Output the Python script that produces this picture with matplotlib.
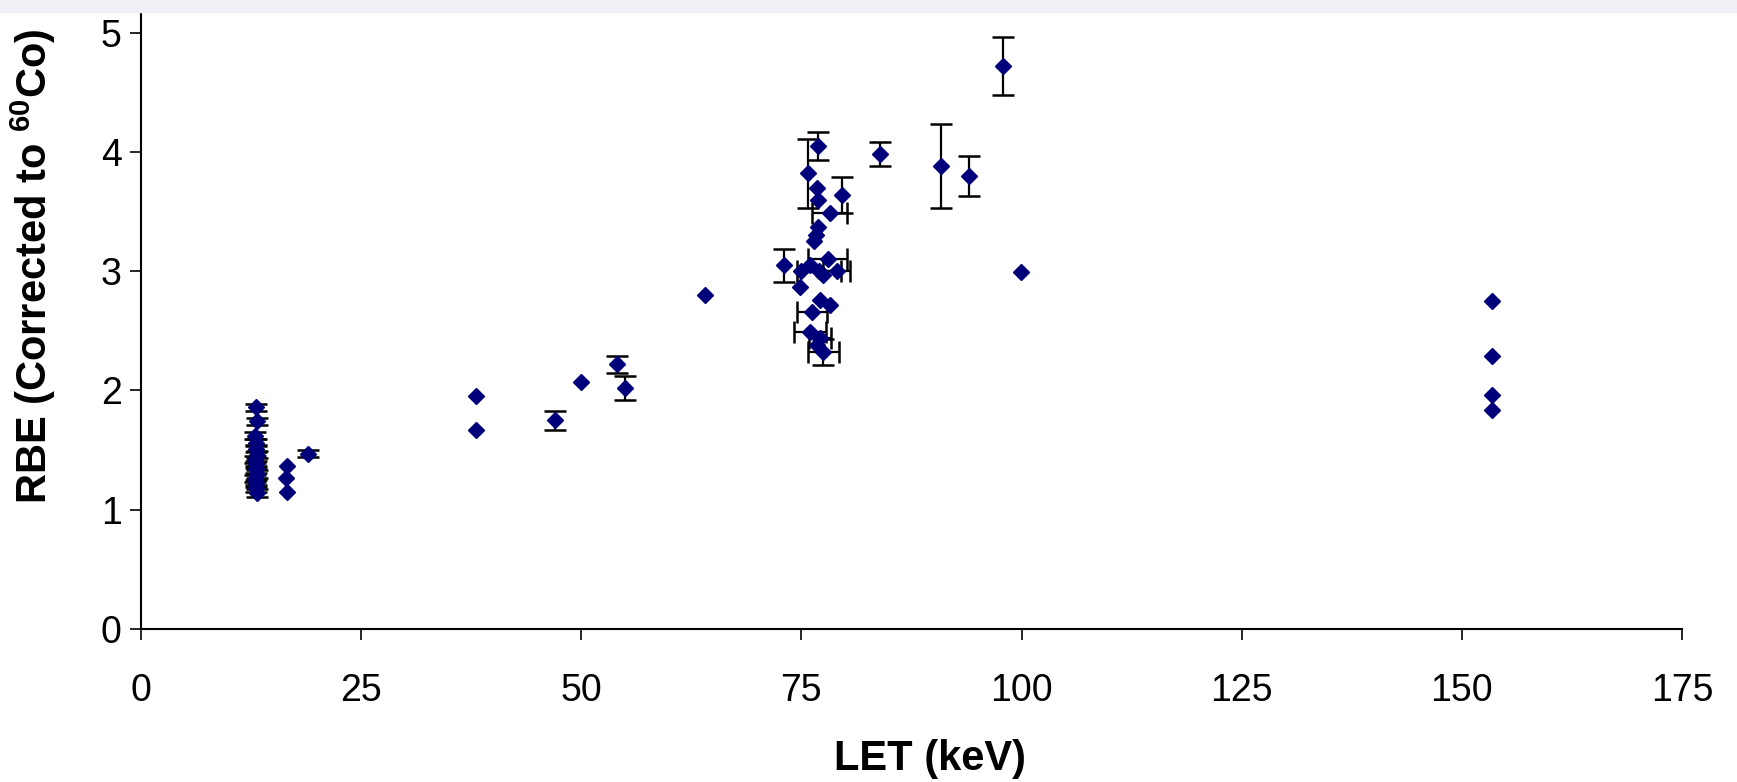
import matplotlib.pyplot as plt
import numpy as np

plt.rcParams['font.family'] = ['Liberation Sans', 'DejaVu Sans']
plt.rcParams['mathtext.fontset'] = 'custom'
plt.rcParams['mathtext.rm'] = 'Liberation Sans:bold'
plt.rcParams['mathtext.default'] = 'rm'

# LET (keV), RBE and their uncertainties
let_kev = [
    13.0, 13.2, 12.9, 13.1, 13.0, 13.2, 12.9, 13.1, 13.0, 13.2, 12.9, 13.1, 13.0, 13.2,
    16.6, 16.5, 16.6, 19.0,
    38.0, 38.0, 47.0, 50.0, 54.0, 55.0, 64.0, 73.0,
    76.9, 75.8, 79.6, 76.8, 76.9, 78.2, 76.9, 76.7, 76.4,
    75.0, 76.0, 77.0, 78.0, 79.0, 77.5, 74.8, 77.1, 78.2,
    76.2, 76.0, 77.1, 76.8, 77.5,
    83.9, 90.8, 94.0, 97.9, 99.9,
    153.4, 153.4, 153.4, 153.4,
]
rbe = [
    1.86, 1.74, 1.62, 1.56, 1.51, 1.46, 1.42, 1.38, 1.34, 1.30, 1.26, 1.22, 1.18, 1.14,
    1.37, 1.27, 1.15, 1.47,
    1.95, 1.67, 1.75, 2.07, 2.22, 2.02, 2.80, 3.05,
    4.05, 3.82, 3.64, 3.70, 3.60, 3.49, 3.37, 3.30, 3.25,
    3.00, 3.05, 3.00, 3.10, 3.00, 2.97, 2.87, 2.76, 2.72,
    2.66, 2.49, 2.44, 2.38, 2.32,
    3.98, 3.88, 3.80, 4.72, 2.99,
    2.75, 2.29, 1.96, 1.84,
]
rbe_err = [
    0.03, 0.03, 0.03, 0.03, 0.03, 0.03, 0.03, 0.03, 0.03, 0.03, 0.03, 0.03, 0.03, 0.03,
    0.0, 0.0, 0.0, 0.03,
    0.0, 0.0, 0.08, 0.0, 0.07, 0.10, 0.0, 0.14,
    0.12, 0.29, 0.15, 0.0, 0.0, 0.0, 0.0, 0.0, 0.0,
    0.0, 0.0, 0.0, 0.0, 0.0, 0.0, 0.0, 0.0, 0.0,
    0.0, 0.0, 0.0, 0.0, 0.11,
    0.10, 0.35, 0.17, 0.245, 0.0,
    0.0, 0.0, 0.0, 0.0,
]
let_err = [
    0, 0, 0, 0, 0, 0, 0, 0, 0, 0, 0, 0, 0, 0,
    0, 0, 0, 0,
    0, 0, 0, 0, 0, 0, 0, 0,
    0, 0, 0, 0, 0, 2.0, 0, 0, 0,
    0, 0, 2.5, 2.2, 1.5, 0, 0, 0, 0,
    1.75, 1.8, 1.25, 0, 1.8,
    0, 0, 0, 0, 0,
    0, 0, 0, 0,
]

x_ticks = [0, 25, 50, 75, 100, 125, 150, 175]
y_ticks = [0, 1, 2, 3, 4, 5]

fig = plt.figure(figsize=(17.37, 7.82), dpi=100)
# faint slide band along the top edge
fig.patches.append(plt.Rectangle((0, 0.985), 1, 0.015, transform=fig.transFigure,
                                 color='#eff1f6', zorder=0))
ax = fig.add_axes([0.0812, 0.1957, 0.8871, 0.7915])

x = np.array(let_kev)
y = np.array(rbe)
ye = np.array(rbe_err)
xe = np.array(let_err)

ax.errorbar(x, y, yerr=np.where(ye > 0, ye, np.nan), fmt='none', ecolor='black',
            elinewidth=1.6, capsize=8, capthick=1.8, zorder=3)
ax.errorbar(x, y, xerr=np.where(xe > 0, xe, np.nan), fmt='none', ecolor='black',
            elinewidth=1.6, capsize=8, capthick=1.8, zorder=3)
ax.plot(x, y, linestyle='none', marker='D', markersize=8.5, color='#00007a',
        markeredgecolor='#00007a', zorder=4)

ax.set_xlim(0, 175)
ax.set_ylim(0, 5.19)
ax.set_xticks(x_ticks)
ax.set_yticks(y_ticks)
ax.spines['top'].set_visible(False)
ax.spines['right'].set_visible(False)
ax.spines['left'].set_linewidth(1.5)
ax.spines['bottom'].set_linewidth(1.5)
ax.tick_params(direction='out', length=8, width=1.2, labelsize=27)
ax.tick_params(axis='x', pad=24)
ax.tick_params(axis='y', pad=6)

ax.set_xlabel('LET (keV)', fontsize=30, fontweight='bold')
ax.set_ylabel('RBE (Corrected to $^{60}$Co)', fontsize=30, fontweight='bold')
ax.xaxis.label.set_va('center')
ax.yaxis.label.set_va('center')
ax.xaxis.set_label_coords(0.512, -0.21)
ax.yaxis.set_label_coords(-0.070, 0.586)

fig.savefig('out.png', dpi=100)
